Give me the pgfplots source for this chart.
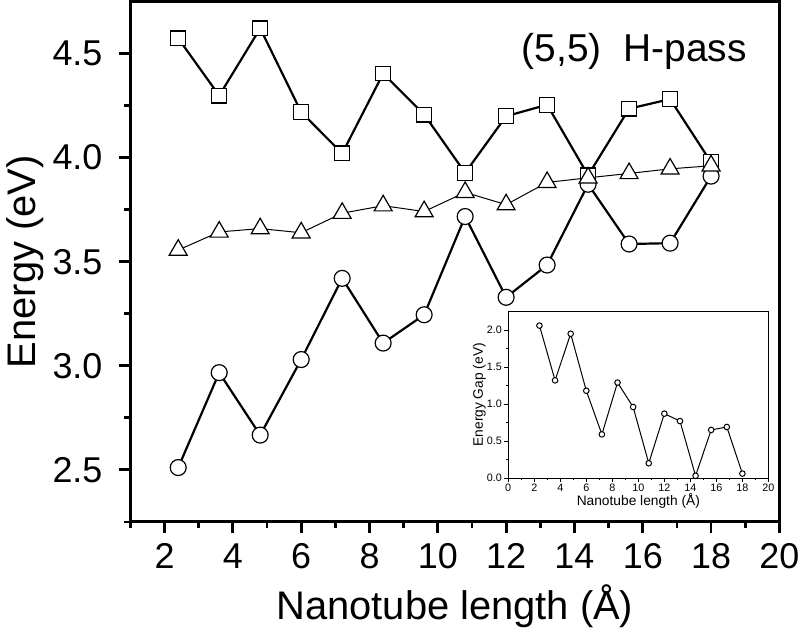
\documentclass[border=0pt]{standalone}
\usepackage{fontspec}
\setmainfont{Liberation Sans}
\usepackage{pgfplots}
\pgfplotsset{compat=1.18}

\pgfplotstableread{
x     sq     tri    ci
2.4   4.573  3.556  2.511
3.6   4.298  3.643  2.967
4.8   4.621  3.659  2.667
6.0   4.219  3.639  3.030
7.2   4.020  3.733  3.420
8.4   4.404  3.769  3.109
9.6   4.207  3.741  3.245
10.8  3.927  3.833  3.717
12.0  4.199  3.774  3.329
13.2  4.254  3.881  3.484
14.4  3.915  3.903  3.872
15.6  4.235  3.924  3.585
16.8  4.281  3.946  3.589
18.0  3.978  3.961  3.911
}\energies

\pgfplotstableread{
x     gap
2.4   2.06
3.6   1.32
4.8   1.95
6.0   1.18
7.2   0.59
8.4   1.29
9.6   0.96
10.8  0.20
12.0  0.87
13.2  0.77
14.4  0.03
15.6  0.65
16.8  0.69
18.0  0.06
}\gaps

\begin{document}
\begin{tikzpicture}
\begin{axis}[
  name=main,
  scale only axis,
  width=325.5pt, height=261pt,
  xmin=1, xmax=20, ymin=2.25, ymax=4.75,
  xtick={2,4,...,20}, minor xtick={1,3,...,19},
  ytick={2.5,3.0,...,4.5}, minor ytick={2.25,2.75,...,4.25},
  xtick pos=bottom, ytick pos=left,
  tick align=outside,
  major tick length=5.5pt, minor tick length=3pt,
  every tick/.style={line width=1.4pt, black},
  axis line style={line width=1.5pt},
  /pgf/number format/assume math mode=true,
  yticklabel style={/pgf/number format/fixed, /pgf/number format/precision=1,
    /pgf/number format/fixed zerofill, xshift=-5pt},
  xticklabel style={yshift=-2pt},
  ticklabel style={font=\fontsize{18}{20}\selectfont},
  xlabel={Nanotube length (Å)}, ylabel={Energy (eV)},
  label style={font=\fontsize{20}{22}\selectfont},
  xlabel style={yshift=-1pt},
  ylabel style={yshift=-2.5pt},
  clip=false,
]
\addplot[black, line width=1.1pt, mark=square*, mark size=3.7pt,
  mark options={fill=white, line width=0.6pt, solid}] table[x=x, y=sq] {\energies};
\addplot[black, line width=1.1pt, mark=*, mark size=4pt,
  mark options={fill=white, line width=0.6pt, solid}] table[x=x, y=ci] {\energies};
\addplot[black, line width=0.5pt, mark=triangle*, mark size=5.2pt,
  mark options={fill=white, line width=0.6pt, solid}] table[x=x, y=tri] {\energies};
\node[font=\fontsize{19.5}{22}\selectfont] at (axis cs:15.75,4.51) {(5,5)\ \ H-pass};
\end{axis}

\begin{axis}[
  at={(189.5pt,22pt)}, anchor=south west,
  scale only axis,
  width=130.5pt, height=83.5pt,
  xmin=0, xmax=20, ymin=0, ymax=2.25,
  xtick={0,2,...,20}, minor xtick={1,3,...,19},
  ytick={0,0.5,...,2.0}, minor ytick={0.25,0.75,...,1.75},
  xtick pos=bottom, ytick pos=left,
  tick align=outside,
  major tick length=2pt, minor tick length=1.2pt,
  every tick/.style={line width=0.5pt, black},
  axis line style={line width=0.5pt},
  axis background/.style={fill=white},
  /pgf/number format/assume math mode=true,
  yticklabel style={/pgf/number format/fixed, /pgf/number format/precision=1, /pgf/number format/fixed zerofill},
  ticklabel style={font=\fontsize{5.4}{6}\selectfont, inner sep=1pt},
  xlabel={Nanotube length (Å)}, ylabel={Energy Gap (eV)},
  label style={font=\fontsize{6.9}{8}\selectfont},
  xlabel style={yshift=4pt},
  ylabel style={yshift=-4pt},
]
\addplot[black, line width=0.5pt, mark=*, mark size=1.4pt,
  mark options={fill=white, line width=0.5pt}] table[x=x, y=gap] {\gaps};
\end{axis}
\end{tikzpicture}
\end{document}
